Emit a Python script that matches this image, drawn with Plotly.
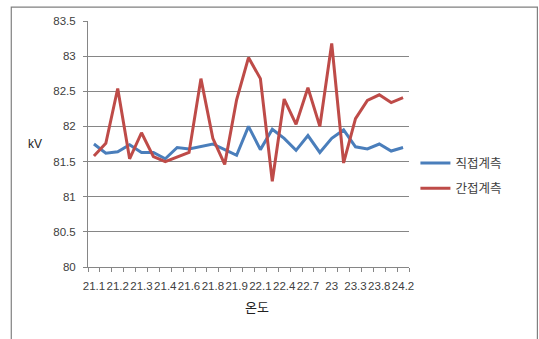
import plotly.graph_objects as go

# 온도 categories (every other one is labelled on the axis)
temps = ["21.1", "21.1 ", "21.2", "21.2 ", "21.3", "21.3 ", "21.4", "21.5",
         "21.6", "21.7", "21.8", "21.8 ", "21.9", "22", "22.1", "22.2",
         "22.4", "22.5", "22.7", "22.8", "23", "23.1", "23.3", "23.6",
         "23.8", "24", "24.2"]

direct_kv = [81.75, 81.62, 81.64, 81.74, 81.63, 81.63, 81.54, 81.70, 81.68,
             81.71, 81.75, 81.67, 81.59, 82.00, 81.67, 81.96, 81.83, 81.66,
             81.87, 81.63, 81.83, 81.95, 81.71, 81.68, 81.75, 81.65, 81.70]

indirect_kv = [81.58, 81.76, 82.54, 81.54, 81.91, 81.57, 81.50, 81.56, 81.63,
               82.68, 81.83, 81.46, 82.38, 82.98, 82.68, 81.22, 82.39, 82.03,
               82.55, 82.00, 83.18, 81.48, 82.11, 82.37, 82.45, 82.34, 82.41]

y_ticks = [80, 80.5, 81, 81.5, 82, 82.5, 83, 83.5]

idx = list(range(len(temps)))
label_idx = idx[::2]
label_txt = [temps[i].strip() for i in label_idx]

fig = go.Figure()
fig.add_trace(go.Scatter(x=idx, y=direct_kv, mode="lines", name="직접계측",
                         line=dict(color="#4A7EBB", width=3), legendgroup="a"))
fig.add_trace(go.Scatter(x=idx, y=indirect_kv, mode="lines", name="간접계측",
                         line=dict(color="#BE4B48", width=3), legendgroup="b"))

grey = "#868686"
num_font = dict(family="Liberation Sans, Arial, sans-serif", size=11.5, color="#404040")

fig.update_layout(
    width=539, height=339,
    margin=dict(l=88, r=130, t=21, b=72),
    paper_bgcolor="white", plot_bgcolor="white",
    showlegend=True,
    legend=dict(x=1.02, y=0.37, xanchor="left", yanchor="middle",
                font=dict(family="Noto Sans CJK KR", size=12.5, color="#404040"),
                traceorder="grouped", tracegroupgap=6,
                bgcolor="rgba(0,0,0,0)"),
    xaxis=dict(range=[-0.5, len(temps) - 0.5], tickmode="array",
               tickvals=label_idx, ticktext=label_txt, ticks="",
               tickangle=0, ticklabelstandoff=8, tickfont=num_font,
               showgrid=False,
               showline=True, linecolor=grey, linewidth=1, zeroline=False,
               minor=dict(tick0=-0.5, dtick=1, ticks="outside", ticklen=4,
                          tickcolor=grey, showgrid=False)),
    yaxis=dict(range=[80, 83.5], tickvals=y_ticks,
               ticktext=[f"{v:g}" for v in y_ticks],
               ticks="outside", ticklen=4, tickcolor=grey,
               ticklabelstandoff=5, tickfont=num_font,
               showgrid=True, gridcolor=grey, gridwidth=1,
               showline=True, linecolor=grey, linewidth=1, zeroline=False),
    annotations=[
        dict(text="kV", xref="paper", yref="paper", x=-0.165, y=0.5,
             showarrow=False, xanchor="center", yanchor="middle",
             font=dict(family="Liberation Sans, Arial", size=12, color="#222")),
        dict(text="온도", xref="paper", yref="paper", x=0.525, y=-0.16,
             showarrow=False, xanchor="center", yanchor="middle",
             font=dict(family="Noto Sans CJK KR", size=13, color="#222")),
    ],
    shapes=[dict(type="rect", xref="paper", yref="paper",
                 x0=-0.239, x1=1.4, y0=-0.4, y1=1.056,
                 line=dict(color="#808080", width=1.2), layer="below")],
)

fig.write_html("out.html")
